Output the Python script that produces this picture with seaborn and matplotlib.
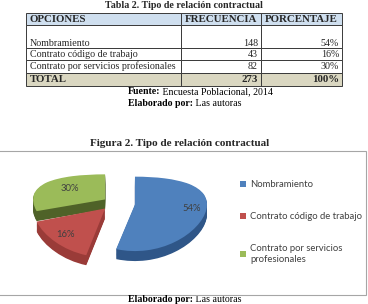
import textwrap
import numpy as np
import matplotlib
matplotlib.use("Agg")
import matplotlib.pyplot as plt
import matplotlib.transforms as mtransforms
from matplotlib.table import Table
from matplotlib.patches import Rectangle
import seaborn as sns

encabezados = ["OPCIONES", "FRECUENCIA", "PORCENTAJE"]
opciones = ["Nombramiento", "Contrato código de trabajo", "Contrato por servicios profesionales"]
frecuencia = [148, 43, 82]
porcentaje = [54, 16, 30]

sns.set_theme(style="white")
serif = ["Liberation Serif", "DejaVu Serif"]
sans = ["Lato", "DejaVu Sans"]
plt.rcParams["font.family"] = serif

W, H = 368, 304
fig = plt.figure(figsize=(W / 100, H / 100), dpi=100)
fig.patch.set_facecolor("white")


def fx(px):
    return px / W


def fy(py):
    return 1 - py / H


def caption(x, y, bold_part, rest, size, va="center"):
    t = fig.text(fx(x), fy(y), bold_part, ha="left", va=va, fontsize=size,
                 fontweight="bold", color="black")
    plt.annotate(" " + rest, xy=(1, 0), xycoords=t, va="bottom", ha="left",
                 fontsize=size, color="black", annotation_clip=False)


# --- table ---
fig.text(fx(184), fy(6), "Tabla 2. Tipo de relación contractual", ha="center",
         va="center", fontsize=7.2, fontweight="bold")

tax = fig.add_axes([fx(26), fy(86), fx(342) - fx(26), (86 - 13) / H])
tax.axis("off")
tbl = Table(tax, bbox=[0, 0, 1, 1])
col_w = [155, 80, 81]
row_h = [12, 23, 12, 13, 13]
edge = "#3a3a3a"
head_bg = "#cfdfef"
total_bg = "#dad7c1"

for j, txt in enumerate(encabezados):
    c = tbl.add_cell(0, j, col_w[j], row_h[0], text=txt,
                     loc="left" if j == 0 else "center",
                     facecolor=head_bg, edgecolor=edge)
    c.PAD = 4 / col_w[j]
    c.set_text_props(fontsize=7.8, fontweight="bold")

for i, (op, fr, pc) in enumerate(zip(opciones, frecuencia, porcentaje)):
    pre = "\n" if i == 0 else ""
    row = [op, str(fr), f"{pc}%"]
    for j, txt in enumerate(row):
        c = tbl.add_cell(i + 1, j, col_w[j], row_h[i + 1], text=pre + txt,
                         loc="left" if j == 0 else "right",
                         facecolor="white", edgecolor=edge)
        c.PAD = (4 if j == 0 else 3) / col_w[j]
        c.set_text_props(fontsize=7.2, linespacing=1.7)

total_row = ["TOTAL", str(sum(frecuencia)), f"{sum(porcentaje)}%"]
for j, txt in enumerate(total_row):
    c = tbl.add_cell(4, j, col_w[j], row_h[4], text=txt,
                     loc="left" if j == 0 else "right",
                     facecolor=total_bg, edgecolor=edge)
    c.PAD = (4 if j == 0 else 3) / col_w[j]
    c.set_text_props(fontsize=7.8, fontweight="bold")

tbl.auto_set_font_size(False)
for c in tbl.get_celld().values():
    c.set_linewidth(0.7)
tax.add_table(tbl)

caption(128, 92, "Fuente:", "Encuesta Poblacional, 2014", 7.1)
caption(128, 103, "Elaborado por:", "Las autoras", 7.1)

# --- figure ---
fig.text(fx(180), fy(143), "Figura 2. Tipo de relación contractual", ha="center",
         va="center", fontsize=8.0, fontweight="bold")

fig.add_artist(Rectangle((fx(-2), fy(295)), fx(366) - fx(-2), (295 - 151) / H,
                         transform=fig.transFigure, fill=False,
                         edgecolor="#a6a6a6", linewidth=0.8))


class Tilt(mtransforms.Transform):
    """Unit pie -> tilted disc in pixel coords (back half shorter than front)."""
    input_dims = output_dims = 2
    is_separable = False
    has_inverse = False

    def __init__(self, cx, cy, rx, r_mid, k, drop=0.0):
        super().__init__()
        self.cx, self.cy, self.rx = cx, cy, rx
        self.r_mid, self.k, self.drop = r_mid, k, drop

    def transform_non_affine(self, values):
        v = np.asarray(values, dtype=float).reshape(-1, 2)
        x, y = v[:, 0], v[:, 1]
        return np.column_stack([self.cx + self.rx * x,
                                self.cy - (self.r_mid * y - self.k * y * y) + self.drop])


top_colors = ["#4f81bd", "#c0504d", "#9bbb59"]
side_colors = ["#2f5688", "#9a3b38", "#4f6228"]
explode = [0.28, 0.2, 0.17]
label_dist = [0.8, 0.8, 0.6]

geom = dict(cx=115, cy=203, rx=72, r_mid=36.5, k=9.5)
depth = 10

pax = fig.add_axes([0, 0, 1, 1])
n_layers = 12
for k in range(n_layers, 0, -1):
    side, _ = pax.pie(frecuencia, explode=explode, colors=side_colors, startangle=90,
                      counterclock=False, wedgeprops=dict(linewidth=0))
    tr = Tilt(drop=depth * k / n_layers, **geom) + pax.transData
    for w in side:
        w.set_transform(tr)

wedges, _, autotexts = pax.pie(frecuencia, explode=explode, colors=top_colors,
                               startangle=90, counterclock=False,
                               autopct="%1.0f%%", wedgeprops=dict(linewidth=0),
                               textprops=dict(fontsize=6.8, color="#404040",
                                              family=sans))
tr_top = Tilt(**geom) + pax.transData
for w, t, d in zip(wedges, autotexts, label_dist):
    w.set_transform(tr_top)
    th = np.deg2rad((w.theta1 + w.theta2) / 2)
    t.set_position((w.center[0] + d * w.r * np.cos(th),
                    w.center[1] + d * w.r * np.sin(th)))
    t.set_transform(tr_top)

pax.set_aspect("auto")
pax.set_xlim(0, W)
pax.set_ylim(H, 0)
pax.axis("off")

pax.legend(wedges, [textwrap.fill(o, 26) for o in opciones],
           loc="upper left", bbox_to_anchor=(fx(240), fy(180)),
           bbox_transform=fig.transFigure, frameon=False,
           prop=dict(family=sans, size=6.8), labelcolor="#404040",
           handlelength=0.6, handleheight=0.6, handletextpad=0.5,
           labelspacing=2.45, borderpad=0, borderaxespad=0)

caption(128, 304, "Elaborado por:", "Las autoras", 7.1, va="bottom")

fig.savefig("out.png", dpi=100, facecolor="white")
